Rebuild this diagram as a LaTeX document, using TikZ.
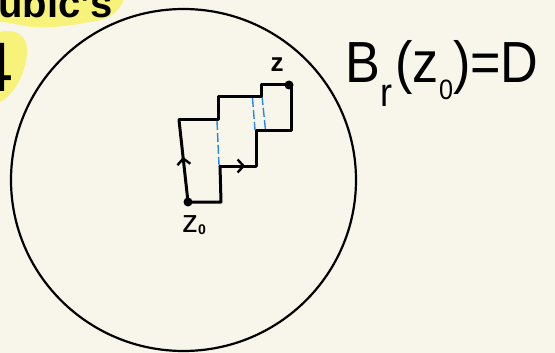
\documentclass[tikz,border=0pt]{standalone}
\usepackage{fontspec}
\setmainfont{Liberation Sans}
\usetikzlibrary{arrows.meta,decorations.markings}
\definecolor{bg}{HTML}{F8F6EB}
\definecolor{hl}{HTML}{F6F27A}
\definecolor{dashblue}{HTML}{2288EE}
\begin{document}
\begin{tikzpicture}[x=1pt,y=-1pt,
  ink/.style={line width=3pt, line cap=round, line join=round},
  bluedash/.style={dashblue, line width=1.4pt, dash pattern=on 9pt off 3pt},
  dotnode/.style={circle, fill=black, inner sep=0pt, minimum size=9pt},
  midarrow/.style={postaction={decorate}, decoration={markings,
     mark=at position #1 with {\arrow[line width=2.4pt]{Straight Barb[length=6pt,width=13pt]}}}},
  lbl/.style={inner sep=0pt}]
\useasboundingbox (0,0) rectangle (555,353);
\clip (0,0) rectangle (555,353);
\fill[bg] (0,0) rectangle (555,353);
% highlighter blobs
\fill[hl] (0,-5) -- (125,-5) .. controls (122,10) and (110,20) .. (90,22)
  .. controls (70,26) and (40,30) .. (20,25) .. controls (10,23) and (5,22) .. (0,22) -- cycle;
\fill[hl] (0,32) .. controls (15,28) and (27,35) .. (27,50)
  .. controls (27,70) and (15,95) .. (0,102) -- cycle;
\node[lbl, anchor=base west, font=\fontsize{40}{40}\selectfont\bfseries] (t1) at (-2,18) {ubic's};
\node[lbl, anchor=base west, font=\fontsize{70}{70}\selectfont] (t2) at (-26,92) {4};
% disc
\draw[line width=2.2pt] (183.5,180) ellipse (172.5 and 171);
% path corners
\coordinate (a) at (221,202);
\coordinate (b) at (220,166);
\coordinate (c) at (256,166);
\coordinate (d) at (256,131);
\coordinate (e) at (291,131);
\coordinate (f) at (291,85);
\coordinate (g) at (261,85);
\coordinate (h) at (261,97);
\coordinate (i) at (218,97);
\coordinate (j) at (218,120);
\coordinate (k) at (179,120);
\node[dotnode] (z0) at (188,202) {};
\node[dotnode] (z) at (289,85) {};
% blue dashed cuts
\draw[bluedash] (217,121) -- (219,165);
\draw[bluedash] (252.5,98) -- (255,130);
\draw[bluedash] (262,96) -- (265.5,130);
% staircase path
\draw[ink] (z0.center) -- (a) -- (b);
\draw[ink, midarrow=0.7] (b) -- (c);
\draw[ink] (c) -- (d) -- (e) -- (f) -- (g) -- (h) -- (i) -- (j) -- (k);
\draw[ink, midarrow=0.55] (z0.center) -- (k);
% labels
\node[lbl, anchor=base, font=\fontsize{26}{26}\selectfont\bfseries] (zl) at (277,72) {z};
\node[lbl, anchor=base west, font=\fontsize{32}{32}\selectfont] (z0l) at (182,232)
  {z\raisebox{-2pt}{\fontsize{14}{14}\selectfont\bfseries 0}};
\node[lbl, anchor=base west] (eq) at (345,83)
  {\scalebox{0.9}[1]{\fontsize{58}{58}\selectfont B\raisebox{-24pt}{\fontsize{40}{40}\selectfont r}\hspace{4pt}(z\raisebox{-17pt}{\fontsize{28}{28}\selectfont 0})=D}};
\end{tikzpicture}
\end{document}
